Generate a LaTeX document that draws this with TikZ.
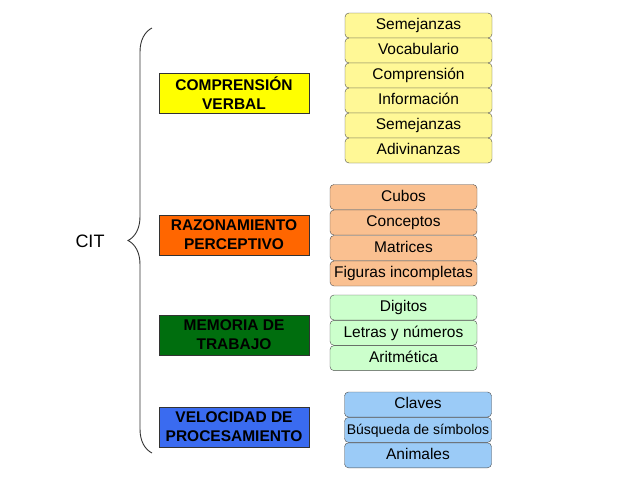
\documentclass[tikz,border=0pt]{standalone}
\usepackage{fontspec}
\setmainfont{Liberation Sans}
\usetikzlibrary{positioning,decorations.pathreplacing}
\definecolor{cvfill}{HTML}{FFFF00}
\definecolor{rpfill}{HTML}{FF6600}
\definecolor{mtfill}{HTML}{006E0E}
\definecolor{vpfill}{HTML}{3A6BF0}
\definecolor{cvsub}{HTML}{FFF896}
\definecolor{rpsub}{HTML}{FAC090}
\definecolor{mtsub}{HTML}{CCFFCC}
\definecolor{vpsub}{HTML}{9BCBF7}
\tikzset{
  area/.style={draw=black!80,fill=#1,minimum width=150pt,minimum height=40pt,
    inner sep=0pt,align=center,font=\fontsize{15.5}{19}\selectfont\bfseries},
  test/.style={draw=black!70,fill=#1,rounded corners=4pt,minimum width=147pt,
    minimum height=25pt,inner sep=0pt,text height=11.5pt,text depth=3pt,
    font=\fontsize{15.5}{18}\selectfont},
}

\begin{document}
\begin{tikzpicture}[x=1pt,y=-1pt]
\useasboundingbox (0,0) rectangle (640,480);
% Ends of the brace
\coordinate (top) at (152,28);
\coordinate (bot) at (152,453);
\node[font=\fontsize{18}{20}\selectfont] (cit) at (90,241) {CIT};
\draw[black!80,line width=0.9pt,decorate,decoration={brace,amplitude=24pt}] (bot) -- (top);
% The four areas
\node[area=cvfill] (cv) at (234,93) {COMPRENSIÓN\\VERBAL};
\node[area=rpfill] (rp) at (234,235) {RAZONAMIENTO\\PERCEPTIVO};
\node[area=mtfill] (mt) at (234,335) {MEMORIA DE\\TRABAJO};
\node[area=vpfill] (vp) at (234,427) {VELOCIDAD DE\\PROCESAMIENTO};
% Subtests, stacked from the top of each column
\foreach \t [count=\i] in {Semejanzas,Vocabulario,Comprensión,Información,Semejanzas,Adivinanzas}
  \node[test=cvsub] (cv\i) at (418.5,{25*\i+0.5}) {\t};
\foreach \t [count=\i] in {Cubos,Conceptos,Matrices,Figuras incompletas}
  \node[test=rpsub] (rp\i) at (403.5,{25.5*\i+171.5}) {\t};
\foreach \t [count=\i] in {Digitos,Letras y números,Aritmética}
  \node[test=mtsub] (mt\i) at (403.5,{25.3*\i+282.2}) {\t};
\node[test=vpsub] (vp1) at (418,404.5) {Claves};
\node[test=vpsub,below=0pt of vp1,font=\fontsize{14}{16}\selectfont] (vp2) {Búsqueda de símbolos};
\node[test=vpsub,below=0pt of vp2] (vp3) {Animales};
\end{tikzpicture}
\end{document}
